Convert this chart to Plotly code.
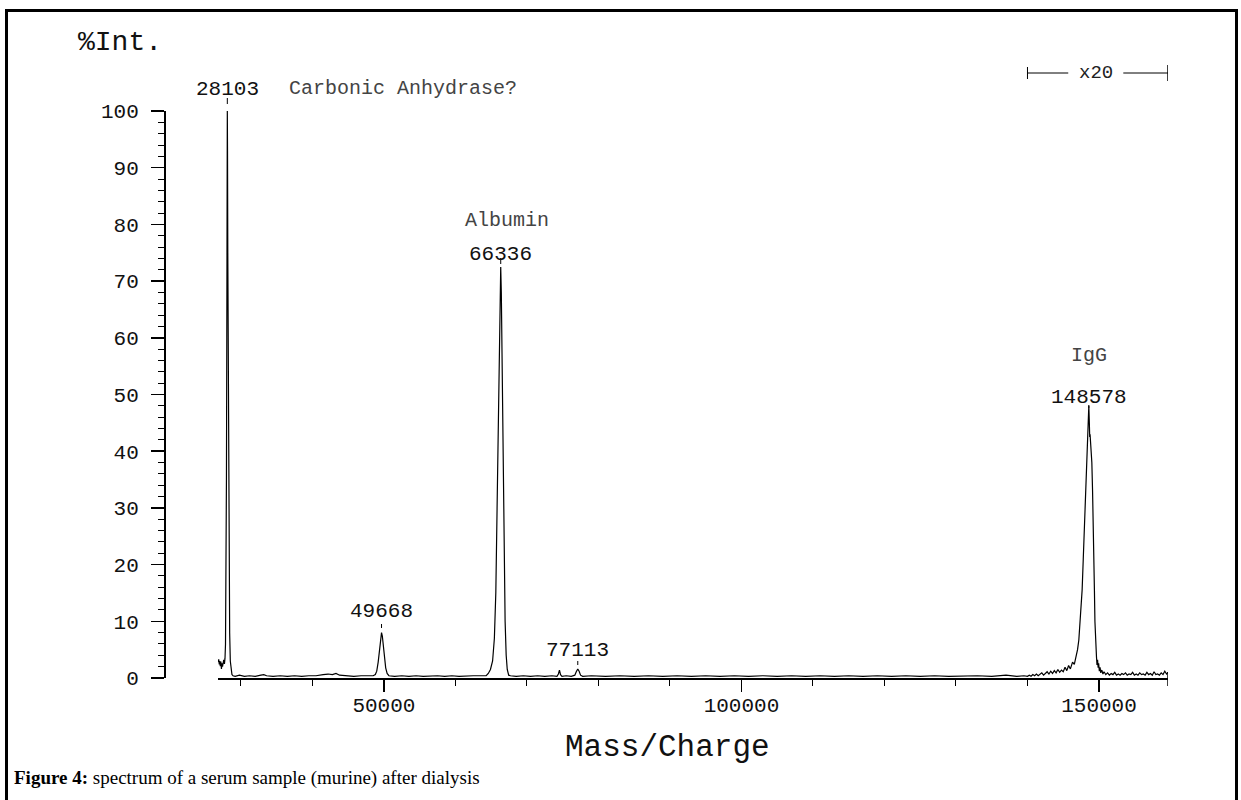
import plotly.graph_objects as go

# ---------------- data ----------------
# leading region and the 28103 peak
lead_mass = [26800, 26900, 26980, 27050, 27120, 27200, 27280, 27350, 27430, 27520, 27600,
             27700, 27780, 27850, 27920, 27980, 28030, 28070, 28103, 28130, 28170, 28220,
             28280, 28350, 28430, 28520, 28620, 28750, 28900]
lead_int = [2.8, 3.3, 2.4, 3.0, 2.1, 2.9, 1.6, 2.6, 2.0, 2.8, 3.2,
            2.5, 3.5, 6, 15, 35, 60, 85, 100, 93, 75, 55,
            35, 18, 8, 3, 1.2, 0.6, 0.4]

# baseline between 29 kDa and the 49668 peak
base1_mass = [29200, 29800, 30500, 31200, 32000, 32800, 33200, 33600, 34500, 35500, 36500,
              37500, 38500, 39500, 40500, 41500, 42200, 42800, 43300, 43800, 44800, 45800,
              46800, 47800, 48500]
base1_int = [0.3, 0.5, 0.3, 0.4, 0.3, 0.5, 0.6, 0.4, 0.3, 0.4, 0.3,
             0.4, 0.3, 0.4, 0.4, 0.6, 0.7, 0.6, 0.8, 0.5, 0.4, 0.3,
             0.4, 0.4, 0.4]

# 49668 peak
p49_mass = [48800, 49000, 49200, 49400, 49550, 49668, 49780, 49900, 50050, 50250, 50450, 50700]
p49_int = [0.6, 1.2, 2.8, 5.2, 7.2, 8.0, 7.4, 5.8, 3.8, 1.8, 0.8, 0.4]

# baseline before albumin
base2_mass = [51500, 52500, 53500, 54500, 55500, 56500, 57500, 58500, 59500, 60500, 61500,
              62500, 63500]
base2_int = [0.3, 0.4, 0.3, 0.4, 0.3, 0.4, 0.4, 0.3, 0.4, 0.3, 0.4, 0.4, 0.4]

# albumin 66336 peak
alb_mass = [64300, 64600, 64900, 65200, 65450, 65650, 65800, 65950, 66100, 66230, 66336,
            66420, 66520, 66650, 66800, 66950, 67100, 67250, 67450, 67700]
alb_int = [0.4, 0.8, 1.5, 3, 7, 15, 28, 44, 58, 68, 72.5,
           68, 57, 42, 24, 10, 4, 1.5, 0.5, 0.4]

# region with the small 74.6 kDa and 77113 bumps
mid_mass = [68500, 69500, 70500, 71500, 72500, 73500, 74200, 74400, 74550, 74700, 74900,
            75500, 76200, 76700, 76900, 77113, 77300, 77500, 77800]
mid_int = [0.3, 0.4, 0.3, 0.4, 0.3, 0.4, 0.3, 0.7, 1.4, 0.6, 0.3,
           0.4, 0.3, 0.5, 1.1, 1.6, 1.2, 0.5, 0.3]

# long flat baseline
base3_mass = [79000, 81000, 83000, 85000, 87000, 89000, 91000, 93000, 95000, 97000, 99000,
              101000, 103000, 105000, 107000, 109000, 111000, 113000, 115000, 117000, 119000,
              121000, 123000, 125000, 127000, 129000, 131000, 133000, 135000, 137000, 138500,
              139500]
base3_int = [0.4, 0.3, 0.4, 0.3, 0.4, 0.3, 0.4, 0.3, 0.4, 0.3, 0.4,
             0.3, 0.4, 0.3, 0.4, 0.3, 0.4, 0.3, 0.4, 0.3, 0.4,
             0.3, 0.4, 0.3, 0.4, 0.3, 0.4, 0.4, 0.3, 0.5, 0.3,
             0.4]

# x20 region: noise and the IgG 148578 peak
igg_mass = [140000, 140250, 140500, 140750, 141000, 141250, 141500, 141750, 142000, 142250,
            142500, 142750, 143000, 143250, 143500, 143750, 144000, 144250, 144500, 144750,
            145000, 145250, 145500, 145750, 146000, 146300, 146550, 146800, 147000, 147180,
            147400, 147640, 147800, 147960, 148100, 148240, 148400, 148500, 148578, 148650,
            148700, 148750, 148850, 149000, 149100, 149220, 149300, 149360, 149430, 149500,
            149580, 149650, 149720, 149800, 149880, 149950, 150050, 150150, 150250, 150400,
            150550]
igg_int = [0.3, 0.5, 0.3, 0.6, 0.4, 0.7, 0.4, 0.6, 0.9, 0.5,
           0.8, 1.1, 0.7, 1.2, 0.8, 1.3, 0.9, 1.5, 1.0, 1.4,
           1.1, 1.9, 1.3, 2.2, 1.6, 2.8, 2.4, 3.8, 5.0, 6.7,
           10.5, 15.5, 21, 27, 33, 39, 45, 47, 48, 45,
           42.5, 43, 41, 38, 33, 27, 21, 15.5, 10, 6.7,
           4.5, 3.7, 2.3, 3.2, 1.8, 2.6, 1.2, 1.9, 0.9, 1.4,
           0.7]

tail_mass = [150700, 150950, 151200, 151450, 151700, 151950, 152200, 152450, 152700, 152950,
             153200, 153450, 153700, 153950, 154200, 154450, 154700, 154950, 155200, 155450,
             155700, 155950, 156200, 156450, 156700, 156950, 157200, 157450, 157700, 157950,
             158200, 158450, 158700, 158950, 159200, 159450, 159650]
tail_int = [1.1, 0.6, 0.9, 0.5, 0.8, 0.6, 1.0, 0.5, 0.7, 0.5,
            0.8, 0.6, 0.9, 0.5, 0.7, 0.6, 1.0, 0.5, 0.7, 0.5,
            0.9, 0.6, 0.7, 0.5, 1.0, 0.6, 0.8, 0.5, 1.1, 0.6,
            0.7, 0.5, 0.9, 0.6, 1.2, 0.7, 1.0]

# labelled peaks
peak_mass = [28103, 49668, 66336, 77113, 148578]
peak_int = [100, 8.0, 72.5, 1.6, 48]
peak_text = ["28103", "49668", "66336", "77113", "148578"]

x_tick_vals = [50000, 100000, 150000]
x_tick_text = ["50000", "100000", "150000"]
y_tick_vals = [0, 10, 20, 30, 40, 50, 60, 70, 80, 90, 100]
x_range = [26800, 159650]
x20_range = [140000, 159650]

# ---------------- figure ----------------
mass = lead_mass + base1_mass + p49_mass + base2_mass + alb_mass + mid_mass + base3_mass + igg_mass + tail_mass
inten = lead_int + base1_int + p49_int + base2_int + alb_int + mid_int + base3_int + igg_int + tail_int

W, H = 1241, 800
OFF = 0  # body margin removed by post_script
MONO = "Liberation Mono, Courier New, monospace"
SERIF = "Liberation Serif, Times New Roman, serif"

def px(xp):
    return (xp - OFF) / W

def py(yp):
    return 1 - (yp - OFF) / H

fig = go.Figure()
fig.add_trace(go.Scatter(x=mass, y=inten, mode="lines",
                         line=dict(color="black", width=1.2), hoverinfo="skip",
                         showlegend=False))

# peak value labels (pixel shifts above each peak)
shifts = [22, 21, 12, 18, 8]
for m, v, t, s in zip(peak_mass, peak_int, peak_text, shifts):
    fig.add_annotation(x=m, y=v, text=t, showarrow=False, yanchor="middle", yshift=s,
                       font=dict(family=MONO, size=21, color="#111"))

# name labels
fig.add_annotation(x=peak_mass[0], y=peak_int[0], text="Carbonic Anhydrase?", showarrow=False,
                   xanchor="left", yanchor="middle", xshift=60, yshift=23,
                   font=dict(family=MONO, size=20, color="#444"))
fig.add_annotation(x=peak_mass[2], y=peak_int[2], text="Albumin", showarrow=False,
                   yanchor="middle", xshift=6, yshift=46,
                   font=dict(family=MONO, size=20, color="#444"))
fig.add_annotation(x=peak_mass[4], y=peak_int[4], text="IgG", showarrow=False,
                   yanchor="middle", xshift=0, yshift=50,
                   font=dict(family=MONO, size=20, color="#444"))

# small marker dashes between labels and peaks
dash_spans = [(98, 104), (624, 628), (258, 264), (661, 665), (405, 408)]
for m, (a, b) in zip(peak_mass, dash_spans):
    fig.add_shape(type="line", xref="x", yref="paper", x0=m, x1=m, y0=py(a), y1=py(b),
                  line=dict(color="black", width=1))

# x20 marker
yl = py(73)
fig.add_shape(type="line", xref="x", yref="paper", x0=x20_range[0], x1=145700, y0=yl, y1=yl,
              line=dict(color="black", width=1))
fig.add_shape(type="line", xref="x", yref="paper", x0=153400, x1=x20_range[1], y0=yl, y1=yl,
              line=dict(color="black", width=1))
fig.add_shape(type="line", xref="x", yref="paper", x0=x20_range[0], x1=x20_range[0],
              y0=py(67), y1=py(79), line=dict(color="black", width=1))
fig.add_shape(type="line", xref="x", yref="paper", x0=x20_range[1], x1=x20_range[1],
              y0=py(65), y1=py(81), line=dict(color="black", width=1.5))
fig.add_annotation(x=(145700 + 153400) / 2, y=yl, xref="x", yref="paper", text="x20",
                   showarrow=False, yanchor="middle",
                   font=dict(family=MONO, size=19, color="#222"))

# end tick on the x axis
fig.add_shape(type="line", xref="x", yref="paper", x0=x_range[1], x1=x_range[1],
              y0=py(672), y1=py(686), line=dict(color="black", width=1.5))

# frame
fig.add_shape(type="rect", xref="paper", yref="paper", x0=px(6.5), x1=px(1236.5), y0=py(10.5), y1=py(812),
              line=dict(color="black", width=3))

# texts
fig.add_annotation(x=px(76), y=py(43), xref="paper", yref="paper", text="%Int.", showarrow=False,
                   xanchor="left", yanchor="middle", font=dict(family=MONO, size=28, color="#111"))
fig.add_annotation(x=px(667), y=py(747), xref="paper", yref="paper", text="Mass/Charge",
                   showarrow=False, xanchor="center", yanchor="middle",
                   font=dict(family=MONO, size=31, color="#111"))
fig.add_annotation(x=px(12), y=py(778), xref="paper", yref="paper",
                   text="<b>Figure 4:</b> spectrum of a serum sample (murine) after dialysis",
                   showarrow=False, xanchor="left", yanchor="middle",
                   font=dict(family=SERIF, size=19, color="black"))

fig.update_layout(
    width=W, height=H, margin=dict(l=0, r=0, t=0, b=0, pad=0), autosize=False,
    paper_bgcolor="white", plot_bgcolor="white",
    xaxis=dict(domain=[px(218), px(1168)], range=x_range, showgrid=False, zeroline=False,
               automargin=False,
               showline=True, linecolor="black", linewidth=2,
               tickmode="array", tickvals=x_tick_vals, ticktext=x_tick_text,
               ticks="outside", ticklen=12, ticklabelstandoff=-5,
               tickwidth=1.2, tickcolor="black",
               tickfont=dict(family=MONO, size=21, color="#111"),
               minor=dict(dtick=10000, tick0=0, ticks="outside", ticklen=6, tickwidth=1,
                          tickcolor="black"),
               anchor="y"),
    yaxis=dict(domain=[py(678), py(111)], range=[0, 100], showgrid=False, zeroline=False,
               automargin=False,
               showline=True, linecolor="black", linewidth=1.5,
               anchor="free", position=px(164),
               tickmode="array", tickvals=y_tick_vals, ticks="outside", ticklen=13,
               tickwidth=1.5, tickcolor="black", ticklabelstandoff=8,
               tickfont=dict(family=MONO, size=21, color="#111"),
               minor=dict(dtick=2, tick0=0, ticks="outside", ticklen=6, tickwidth=1,
                          tickcolor="black")),
)

fig.write_html("out.html",
               config=dict(displayModeBar=False, staticPlot=True),
               post_script="document.body.style.margin='0';document.body.style.overflow='hidden';")
